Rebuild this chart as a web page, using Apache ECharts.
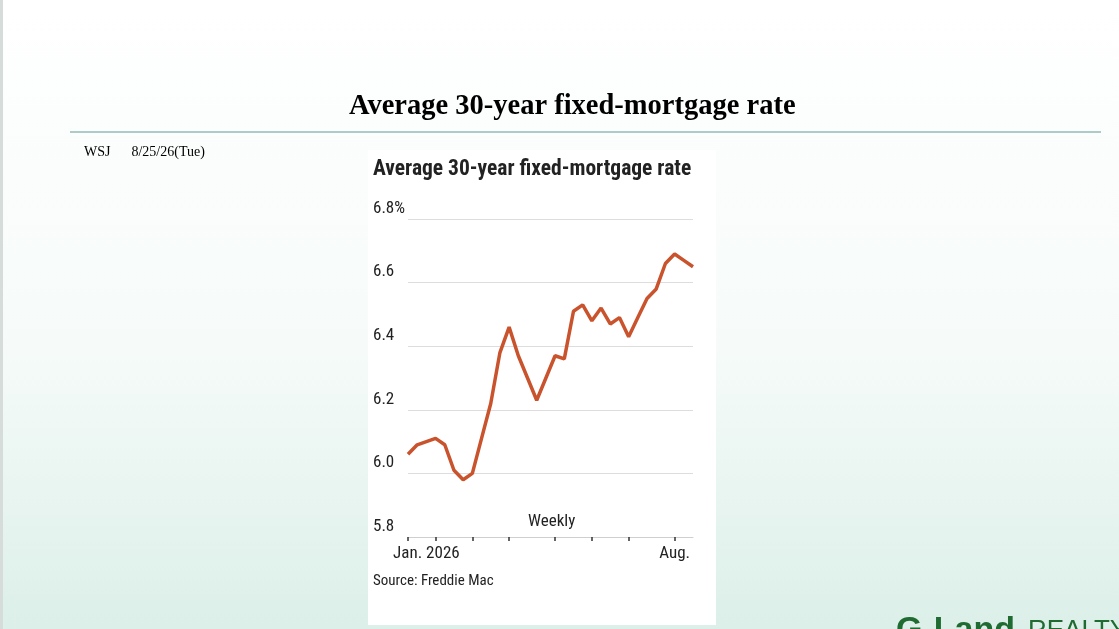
<!DOCTYPE html>
<html><head><meta charset="utf-8">
<script src="https://cdn.jsdelivr.net/npm/echarts@6/dist/echarts.min.js"></script>
<style>html,body{margin:0;padding:0;}#c{width:1119px;height:629px;}</style>
</head><body><div id="c"></div>
<script>
const weeks = Array.from({length:32},(_,i)=>'W'+(i+1));
const rates = [6.06,6.09,6.10,6.11,6.09,6.01,5.98,6.00,6.11,6.22,6.38,6.46,6.37,6.30,6.23,6.30,6.37,6.36,6.51,6.53,6.48,6.52,6.47,6.49,6.43,6.49,6.55,6.58,6.66,6.69,6.67,6.65];
const tickIdx = [0,3,7,11,16,20,24,29];
const labelMap = {2:'Jan. 2026',29:'Aug.'};
const narrow = '"Liberation Sans Narrow","Roboto Condensed","Liberation Sans",sans-serif';
const chart = echarts.init(document.getElementById('c'));
chart.setOption({
  backgroundColor:'#fff',
  animation:false,
  graphic:[
    {type:'rect',z:-10,shape:{x:0,y:0,width:1119,height:629},style:{fill:new echarts.graphic.LinearGradient(0,0,0,1,[{offset:0,color:'#ffffff'},{offset:0.55,color:'#f6fbf9'},{offset:1,color:'#dcefe9'}])}},
    {type:'rect',z:-9,shape:{x:0,y:0,width:3,height:629},style:{fill:'#d6dcd9'}},
    {type:'text',left:349,top:92,style:{text:'Average 30-year fixed-mortgage rate',font:'bold 28.5px "Liberation Serif",serif',fill:'#000'}},
    {type:'line',shape:{x1:70,y1:132,x2:1101,y2:132},style:{stroke:'#5f9a92',lineWidth:1.2}},
    {type:'text',left:84,top:145,style:{text:'WSJ      8/25/26(Tue)',font:'14px "Liberation Serif",serif',fill:'#000'}},
    {type:'rect',z:-5,shape:{x:368,y:150,width:348,height:475},style:{fill:'#fff'}},
    {type:'text',left:373,top:159,style:{text:'Average 30-year fixed-mortgage rate',font:'bold 21.5px '+narrow,fill:'#222'}},
    {type:'text',left:528,top:513,style:{text:'Weekly',font:'17px '+narrow,fill:'#222'}},
    {type:'text',left:373,top:574,style:{text:'Source: Freddie Mac',font:'15px '+narrow,fill:'#222'}},
    {type:'text',left:896,top:614,style:{text:'G-Land',font:'bold 34px "Liberation Sans",sans-serif',fill:'#1f6b32'}},
    {type:'text',left:1028,top:618,style:{text:'REALTY',font:'26px "Liberation Sans",sans-serif',fill:'#1f6b32'}}
  ],
  grid:{left:408,right:426,top:219,bottom:92},
  xAxis:{type:'category',data:weeks,boundaryGap:false,
    axisLine:{lineStyle:{color:'#cfcfcf'}},
    axisTick:{interval:(i)=>tickIdx.includes(i),length:4,lineStyle:{color:'#333',width:1.5}},
    axisLabel:{interval:(i)=>labelMap[i]!==undefined,formatter:(v,i)=>labelMap[i]||'',color:'#222',fontFamily:narrow,fontSize:17,margin:8},
  },
  yAxis:{type:'value',min:5.8,max:6.8,interval:0.2,
    axisLine:{show:false},axisTick:{show:false},
    splitLine:{lineStyle:{color:'#dddddd'}},
    axisLabel:{formatter:(v)=>{const s=v.toFixed(1);return Math.abs(v-6.8)<1e-6?s+'%':s;},align:'left',margin:35,verticalAlign:'bottom',padding:[0,0,2,0],color:'#222',fontFamily:narrow,fontSize:17}
  },
  series:[{type:'line',data:rates,symbol:'none',lineStyle:{color:'#c9532c',width:3.5}}]
});
</script></body></html>
